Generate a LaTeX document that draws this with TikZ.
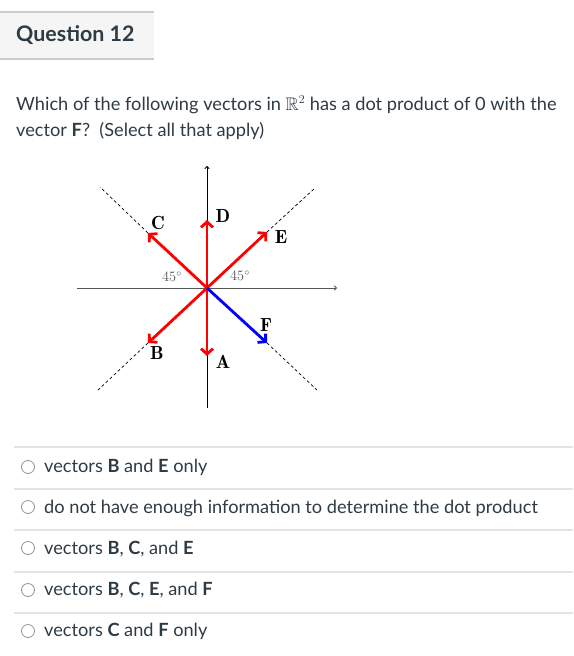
\documentclass[tikz,border=0pt]{standalone}
\usepackage{amssymb}
\usepackage[no-math]{fontspec}
\setmainfont{Lato}
\usetikzlibrary{arrows.meta}
\definecolor{txt}{HTML}{2D3B45}
\definecolor{hdrfill}{HTML}{F5F5F5}
\definecolor{hdrline}{HTML}{C7CDD1}
\definecolor{sepline}{HTML}{E2E4E6}
\definecolor{radiogray}{HTML}{8A9299}
\definecolor{axisgray}{HTML}{555555}
\definecolor{vred}{HTML}{FF0000}
\definecolor{vblue}{HTML}{0000FF}
\tikzset{
  body/.style={anchor=base west, inner sep=0pt, text=txt, font=\fontsize{18.2}{22}\selectfont},
  titletext/.style={anchor=base west, inner sep=0pt, text=txt, font=\fontsize{21.4}{26}\selectfont\bfseries},
  radio/.style={circle, draw=radiogray, line width=0.8pt, minimum size=13pt, inner sep=0pt},
  sep/.style={draw=sepline, line width=1.2pt},
  axis/.style={line width=0.9pt, -{To[length=3pt,width=5pt]}},
  guide/.style={line width=0.7pt, dash pattern=on 3pt off 2.5pt},
  vecarrow/.style={line width=2.8pt, -{Straight Barb[length=5.5pt,width=12pt]}},
  lab/.style={inner sep=0pt, font=\fontfamily{lmr}\fontsize{19}{22}\selectfont\bfseries},
  ang/.style={inner sep=0pt, text=axisgray, font=\fontsize{14}{16}\selectfont}
}
\begin{document}
\begin{tikzpicture}[x=1pt,y=-1pt]
\useasboundingbox (0,0) rectangle (573,656);
% header
\fill[hdrfill] (0,12) rectangle (154,59);
\draw[hdrline, line width=1.3pt] (0,12) -- (154,12);
\draw[hdrline, line width=1.3pt] (0,59) -- (154,59);
\node[titletext] (title) at (16,41) {Question 12};
% question
\node[body] (q1) at (16,110) {Which of the following vectors in $\mathbb{R}^2$ has a dot product of 0 with the};
\node[body] (q2) at (16,136) {vector \textbf{F}?\ \ (Select all that apply)};
% diagram
\coordinate (O) at (207,288);
\coordinate (xl) at (77,288);
\coordinate (xr) at (337,288);
\coordinate (yb) at (207,408);
\coordinate (yt) at (207,166);
\draw[axis, axisgray] (xl) -- (xr);
\draw[axis, black] (yb) -- (yt);
\coordinate (tC) at (148,233);
\coordinate (tE) at (267,232);
\coordinate (tB) at (148,343);
\coordinate (tF) at (267,343);
\coordinate (tD) at (207,220);
\coordinate (tA) at (207,356);
\coordinate (gC) at (100,187);
\coordinate (gE) at (315,188);
\coordinate (gB) at (98,390);
\coordinate (gF) at (317,390);
\draw[guide] (tC) -- (gC);
\draw[guide] (tE) -- (gE);
\draw[guide] (tB) -- (gB);
\draw[guide] (tF) -- (gF);
\draw[vecarrow, vred] (O) -- (tC);
\draw[vecarrow, vred] (O) -- (tE);
\draw[vecarrow, vred] (O) -- (tB);
\draw[vecarrow, vred] (O) -- (tD);
\draw[vecarrow, vred] (O) -- (tA);
\draw[vecarrow, vblue] (O) -- (tF);
\node[lab] (lC) at (158,223) {C};
\node[lab] (lD) at (223,216) {D};
\node[lab] (lE) at (281,237) {E};
\node[lab] (lF) at (266,325) {F};
\node[lab] (lB) at (157,353) {B};
\node[lab] (lA) at (223,362) {A};
\node[ang] (a1) at (172,277) {$45^\circ$};
\node[ang] (a2) at (240,276) {$45^\circ$};
% options
\draw[sep] (14,447) -- (573,447);
\draw[sep] (14,489) -- (573,489);
\draw[sep] (14,530) -- (573,530);
\draw[sep] (14,572) -- (573,572);
\draw[sep] (14,613) -- (573,613);
\node[radio] (r1) at (28,467) {};
\node[radio] (r2) at (28,507) {};
\node[radio] (r3) at (28,548) {};
\node[radio] (r4) at (28,590) {};
\node[radio] (r5) at (28,631) {};
\node[body] (o1) at (44,472) {vectors \textbf{B} and \textbf{E} only};
\node[body] (o2) at (44,513) {do not have enough information to determine the dot product};
\node[body] (o3) at (44,554) {vectors \textbf{B}, \textbf{C}, and \textbf{E}};
\node[body] (o4) at (44,595) {vectors \textbf{B}, \textbf{C}, \textbf{E}, and \textbf{F}};
\node[body] (o5) at (44,636) {vectors \textbf{C} and \textbf{F} only};
\end{tikzpicture}
\end{document}
